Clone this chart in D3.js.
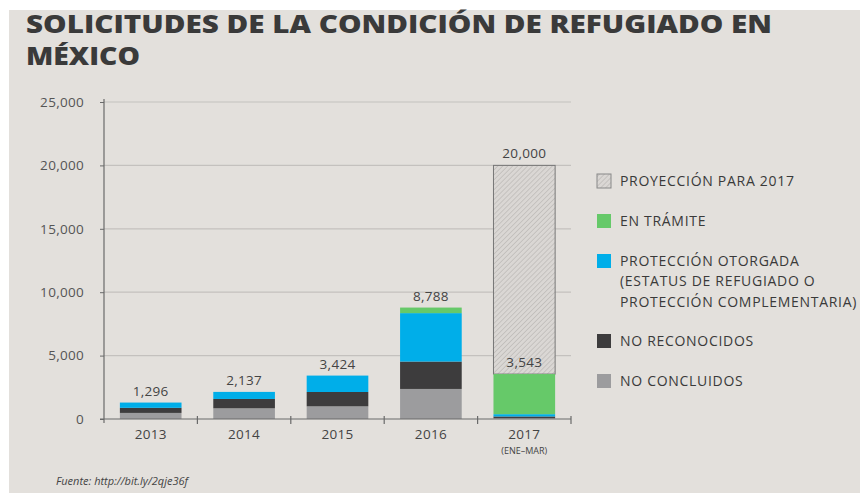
<!DOCTYPE html>
<html>
<head>
<meta charset="utf-8">
<script src="https://cdn.jsdelivr.net/npm/d3@7"></script>
<style>
  body { margin: 0; background: #fff; }
  text { font-family: "Open Sans", sans-serif; }
</style>
</head>
<body>
<div id="chart"></div>
<script>
let w = 860;
let h = 493;

// data
let years = ["2013", "2014", "2015", "2016", "2017"];
let noConcluidos  = [480, 845, 1000, 2370, 80];
let noReconocidos = [400, 735, 1130, 2160, 120];
let proteccion    = [416, 557, 1294, 3820, 180];
let enTramite     = [0, 0, 0, 438, 3163];
let totals        = [1296, 2137, 3424, 8788, 3543];
let proyeccion2017 = 20000;
let yTicks = [0, 5000, 10000, 15000, 20000, 25000];

let seriesKeys = ["noConcluidos", "noReconocidos", "proteccion", "enTramite"];
let colors = {
  noConcluidos: "#9c9c9e",
  noReconocidos: "#3d3c3d",
  proteccion: "#00aee9",
  enTramite: "#66c969"
};

let legendItems = [
  {key: "proyeccion", lines: ["PROYECCIÓN PARA 2017"]},
  {key: "enTramite", lines: ["EN TRÁMITE"]},
  {key: "proteccion", lines: ["PROTECCIÓN OTORGADA", "(ESTATUS DE REFUGIADO O", "PROTECCIÓN COMPLEMENTARIA)"]},
  {key: "noReconocidos", lines: ["NO RECONOCIDOS"]},
  {key: "noConcluidos", lines: ["NO CONCLUIDOS"]}
];

let rows = years.map(function(y, i){
  return {
    year: y,
    noConcluidos: noConcluidos[i],
    noReconocidos: noReconocidos[i],
    proteccion: proteccion[i],
    enTramite: enTramite[i],
    total: totals[i]
  };
});

let svg = d3.select("#chart").append("svg")
  .attr("width", w)
  .attr("height", h);

let defs = svg.append("defs");
let pat = defs.append("pattern")
  .attr("id", "hatch")
  .attr("patternUnits", "userSpaceOnUse")
  .attr("width", 3.5)
  .attr("height", 3.5)
  .attr("patternTransform", "rotate(45)");
pat.append("rect").attr("width", 3.5).attr("height", 3.5).attr("fill", "#dad7d4");
pat.append("line").attr("x1", 0).attr("y1", 0).attr("x2", 0).attr("y2", 3.5)
  .attr("stroke", "#b0adaa").attr("stroke-width", 1);

// background panel
svg.append("rect")
  .attr("x", 9).attr("y", 10)
  .attr("width", w - 9).attr("height", h - 10)
  .attr("fill", "#e3e0dc");

// title
svg.append("text")
  .attr("x", 26).attr("y", 33)
  .attr("textLength", 746)
  .attr("lengthAdjust", "spacingAndGlyphs")
  .style("font-size", "25px").style("font-weight", "800")
  .attr("fill", "#3a3a3a")
  .text("SOLICITUDES DE LA CONDICIÓN DE REFUGIADO EN");
svg.append("text")
  .attr("x", 26).attr("y", 65)
  .attr("textLength", 114)
  .attr("lengthAdjust", "spacingAndGlyphs")
  .style("font-size", "25px").style("font-weight", "800")
  .attr("fill", "#3a3a3a")
  .text("MÉXICO");

// scales
let x = d3.scaleBand().domain(years).range([104, 571]).paddingInner(0.34).paddingOuter(0.17);
let y = d3.scaleLinear().domain([0, 25000]).range([419, 102]);

// gridlines
svg.selectAll(".grid").data(yTicks.slice(1)).enter()
  .append("line")
  .attr("class", "grid")
  .attr("x1", 104).attr("x2", 571)
  .attr("y1", d => y(d)).attr("y2", d => y(d))
  .attr("stroke", "#c4c1be").attr("stroke-width", 1.2);

// y axis
let yAxis = d3.axisLeft(y).tickValues(yTicks).tickSize(4).tickFormat(d3.format(","));
let yG = svg.append("g").attr("transform", "translate(104,0)").call(yAxis);
yG.select(".domain").remove();
yG.selectAll(".tick line").attr("stroke", "#6a6a6a");
yG.selectAll(".tick text").attr("x", -20)
  .attr("fill", "#555").style("font-size", "13.5px").style("font-family", "Open Sans, sans-serif")
  .style("letter-spacing", "0.3px");
svg.append("line")
  .attr("x1", 104).attr("x2", 104).attr("y1", 99).attr("y2", 423)
  .attr("stroke", "#6a6a6a").attr("stroke-width", 1.2);

// projection bar for 2017
let last = rows[rows.length - 1];
svg.append("rect")
  .attr("x", x(last.year)).attr("width", x.bandwidth())
  .attr("y", y(proyeccion2017))
  .attr("height", y(last.total) - y(proyeccion2017))
  .attr("fill", "url(#hatch)")
  .attr("stroke", "#777").attr("stroke-width", 1);

// stacked bars
let stack = d3.stack().keys(seriesKeys);
let stacked = stack(rows);

svg.selectAll(".layer").data(stacked).enter()
  .append("g")
  .attr("class", "layer")
  .attr("fill", d => colors[d.key])
  .selectAll("rect").data(d => d).enter()
  .append("rect")
  .attr("x", d => x(d.data.year))
  .attr("width", x.bandwidth())
  .attr("y", d => y(d[1]))
  .attr("height", d => y(d[0]) - y(d[1]));

// value labels
svg.selectAll(".total").data(rows).enter()
  .append("text")
  .attr("class", "total")
  .attr("x", d => x(d.year) + x.bandwidth() / 2)
  .attr("y", d => y(d.total) - 7)
  .attr("text-anchor", "middle")
  .attr("fill", "#444").style("font-size", "13.5px").style("letter-spacing", "0.3px")
  .text(d => d3.format(",")(d.total));

svg.append("text")
  .attr("x", x(last.year) + x.bandwidth() / 2)
  .attr("y", y(proyeccion2017) - 7)
  .attr("text-anchor", "middle")
  .attr("fill", "#444").style("font-size", "13.5px").style("letter-spacing", "0.3px")
  .text(d3.format(",")(proyeccion2017));

// x axis
svg.append("line")
  .attr("x1", 100).attr("x2", 571).attr("y1", 419).attr("y2", 419)
  .attr("stroke", "#6a6a6a").attr("stroke-width", 1.2);
svg.selectAll(".xtick").data(years).enter()
  .append("line")
  .attr("class", "xtick")
  .attr("x1", d => x(d) + x.bandwidth() + x.step() * x.paddingInner() / 2)
  .attr("x2", d => x(d) + x.bandwidth() + x.step() * x.paddingInner() / 2)
  .attr("y1", 416).attr("y2", 424)
  .attr("stroke", "#6a6a6a").attr("stroke-width", 1.2);

svg.selectAll(".xlabel").data(years).enter()
  .append("text")
  .attr("class", "xlabel")
  .attr("x", d => x(d) + x.bandwidth() / 2)
  .attr("y", 439)
  .attr("text-anchor", "middle")
  .attr("fill", "#444").style("font-size", "13.5px").style("letter-spacing", "0.3px")
  .text(d => d);
svg.append("text")
  .attr("x", x(last.year) + x.bandwidth() / 2)
  .attr("y", 454)
  .attr("text-anchor", "middle")
  .attr("fill", "#444").style("font-size", "9px")
  .text("(ENE–MAR)");

// legend
let ly = [181, 221, 261, 341, 381];
let leg = svg.selectAll(".leg").data(legendItems).enter()
  .append("g")
  .attr("class", "leg")
  .attr("transform", (d, i) => "translate(597," + ly[i] + ")");
leg.append("rect")
  .attr("x", 0).attr("y", -7).attr("width", 14).attr("height", 14)
  .attr("fill", d => d.key == "proyeccion" ? "url(#hatch)" : colors[d.key])
  .attr("stroke", d => d.key == "proyeccion" ? "#888" : "none");
leg.selectAll("text").data(d => d.lines).enter()
  .append("text")
  .attr("x", 23)
  .attr("y", (d, i) => i * 20.3)
  .attr("dy", "0.35em")
  .attr("fill", "#3a3a3a").style("font-size", "14px").style("letter-spacing", "0.7px")
  .text(d => d);

// source
svg.append("text")
  .attr("x", 56).attr("y", 485)
  .attr("fill", "#444").style("font-size", "11px").style("font-style", "italic")
  .text("Fuente: http://bit.ly/2qje36f");
</script>
</body>
</html>
